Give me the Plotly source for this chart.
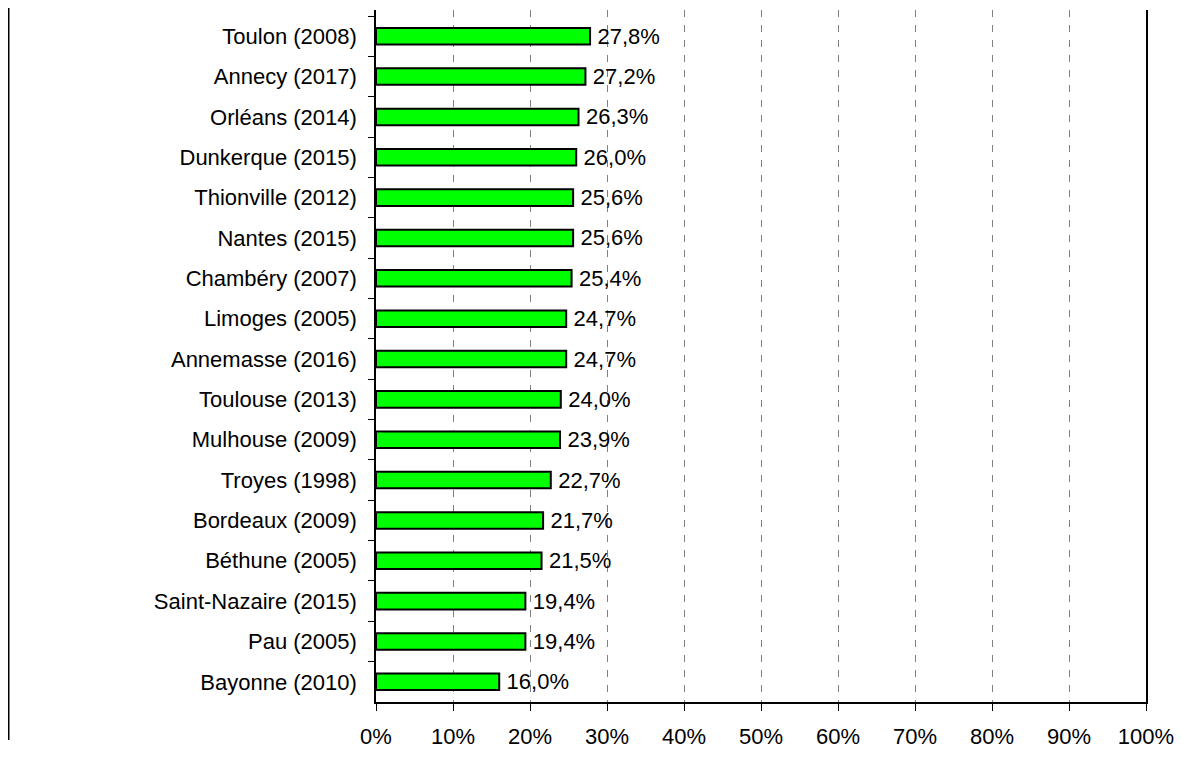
import plotly.graph_objects as go

cities = ["Toulon (2008)", "Annecy (2017)", "Orléans (2014)", "Dunkerque (2015)",
          "Thionville (2012)", "Nantes (2015)", "Chambéry (2007)", "Limoges (2005)",
          "Annemasse (2016)", "Toulouse (2013)", "Mulhouse (2009)", "Troyes (1998)",
          "Bordeaux (2009)", "Béthune (2005)", "Saint-Nazaire (2015)", "Pau (2005)",
          "Bayonne (2010)"]
values = [27.8, 27.2, 26.3, 26.0, 25.6, 25.6, 25.4, 24.7, 24.7, 24.0, 23.9, 22.7,
          21.7, 21.5, 19.4, 19.4, 16.0]
x_ticks = [0, 10, 20, 30, 40, 50, 60, 70, 80, 90, 100]
x_tick_labels = ["0%", "10%", "20%", "30%", "40%", "50%", "60%", "70%", "80%", "90%", "100%"]

labels = ["\u2009" + f"{v:.1f}".replace(".", ",") + "%" for v in values]

FONT = "Liberation Sans, Arial, Helvetica, sans-serif"

fig = go.Figure(go.Bar(
    x=values, y=cities, orientation="h",
    marker=dict(color="#00FF00", line=dict(color="black", width=2)),
    width=0.41,
    text=labels, textposition="outside", cliponaxis=False,
    constraintext="none",
    textfont=dict(size=22, color="black", family=FONT),
))

# page body has an 8px margin; layout coords = screen coords - 8
W, H = 1174, 759
L, R, T, B = 368, 36, 2, 65
PW, PH = W - L - R, H - T - B

fig.update_layout(
    width=W, height=H,
    margin=dict(l=L, r=R, t=T, b=B),
    paper_bgcolor="white", plot_bgcolor="white",
    font=dict(family=FONT, size=22, color="black"),
    showlegend=False,
    xaxis=dict(
        range=[0, 100], tickvals=x_ticks, ticktext=x_tick_labels,
        showgrid=True, gridcolor="#808080", gridwidth=1, griddash="7px,8px",
        showline=True, linecolor="black", linewidth=1.5,
        ticks="outside", ticklen=7, tickcolor="black", tickwidth=1,
        ticklabelstandoff=7, zeroline=False,
        tickfont=dict(size=22, family=FONT),
    ),
    yaxis=dict(
        type="category", range=[16.5, -0.65],
        showgrid=False, showline=True, linecolor="black", linewidth=1.5,
        mirror=True,
        ticks="outside", tickson="boundaries", ticklen=6, tickcolor="black",
        ticklabelstandoff=13,
        tickfont=dict(size=22, family=FONT),
    ),
    shapes=[dict(
        type="line", xref="paper", yref="paper",
        x0=(0.75 - L) / PW, x1=(0.75 - L) / PW,
        y0=(H - B - 0) / PH, y1=(H - B - 732) / PH,
        line=dict(color="black", width=1.5),
    )],
)

fig.write_html("out.html")
